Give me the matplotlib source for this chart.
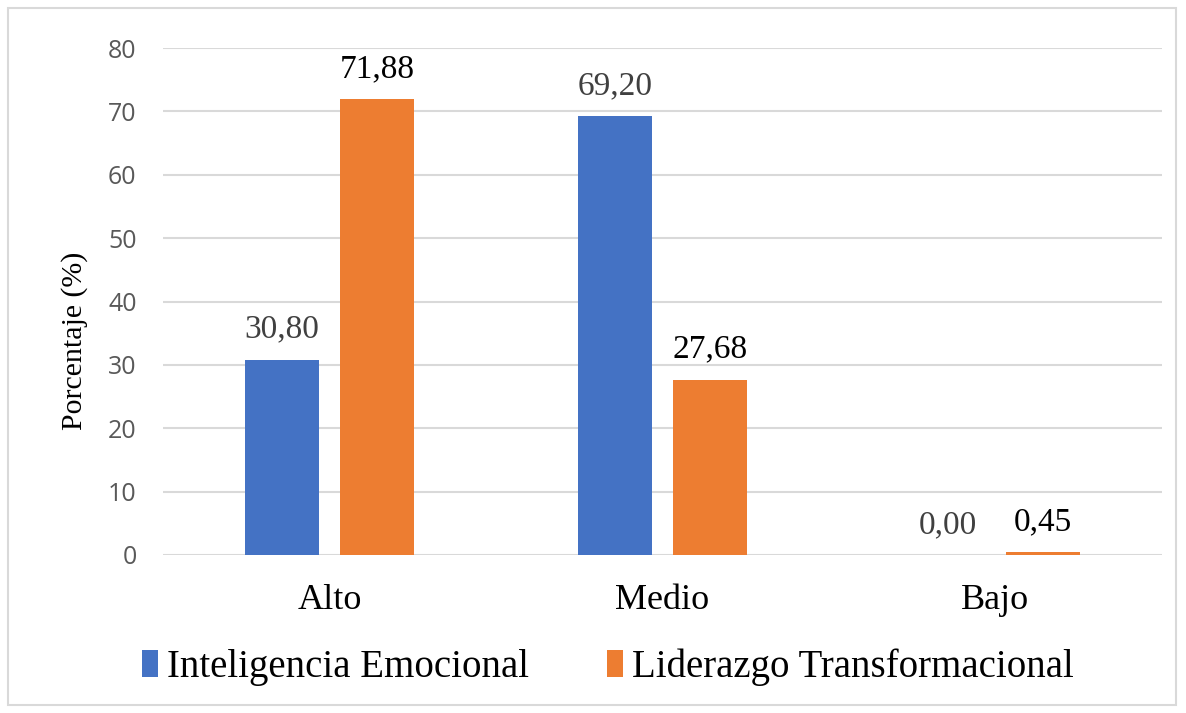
import numpy as np
import matplotlib.pyplot as plt
from matplotlib.patches import Rectangle

categories = ["Alto", "Medio", "Bajo"]
series_names = ["Inteligencia Emocional", "Liderazgo Transformacional"]
inteligencia = [30.80, 69.20, 0.00]
liderazgo = [71.88, 27.68, 0.45]
yticks = [0, 10, 20, 30, 40, 50, 60, 70, 80]

BLUE = "#4472C4"
ORANGE = "#ED7D31"
SERIF = "Liberation Serif"


def fmt(v):
    return f"{v:.2f}".replace(".", ",")


def main():
    fig = plt.figure(figsize=(11.86, 7.13), dpi=100)
    # outer chart border like an Excel chart area
    fig.patches.append(Rectangle((8 / 1186, 8 / 713), 1168 / 1186, 697 / 713,
                                 transform=fig.transFigure, fill=False,
                                 edgecolor="#D9D9D9", linewidth=1.5))
    ax = fig.add_axes([163 / 1186, 1 - 555 / 713, 999 / 1186, 507 / 713])

    x = np.arange(len(categories))
    w = 0.222
    off = 0.143
    ax.bar(x - off, inteligencia, w, color=BLUE, label=series_names[0], zorder=3)
    ax.bar(x + off, liderazgo, w, color=ORANGE, label=series_names[1], zorder=3)

    for xi, v in zip(x, inteligencia):
        ax.text(xi - off, v + 3.5, fmt(v), ha="center", va="baseline",
                fontsize=24, family=SERIF, color="#404040")
    for xi, v in zip(x, liderazgo):
        ax.text(xi + off, v + 3.5, fmt(v), ha="center", va="baseline",
                fontsize=24, family=SERIF, color="black")

    ax.set_xlim(-0.5, 2.5)
    ax.set_ylim(0, 80)
    ax.set_yticks(yticks)
    ax.set_yticklabels([str(t) for t in yticks], fontsize=18, family="Open Sans",
                       color="#595959")
    ax.set_xticks(x)
    ax.set_xticklabels(categories, fontsize=26, family=SERIF, color="black")
    ax.tick_params(axis="both", length=0)
    ax.tick_params(axis="y", pad=19)
    ax.tick_params(axis="x", pad=21)
    ax.grid(axis="y", color="#D9D9D9", linewidth=1.5, zorder=0)
    for s in ax.spines.values():
        s.set_visible(False)

    fig.text(75 / 1186, 1 - 341 / 713, "Porcentaje (%)", rotation=90,
             ha="center", va="center", fontsize=21.5, family=SERIF)

    fig.legend(loc="center", bbox_to_anchor=(608 / 1186, 1 - 667 / 713), ncol=2,
               frameon=False, prop={"family": SERIF, "size": 28},
               handlelength=0.4, handleheight=0.7, handletextpad=0.25,
               columnspacing=2.0)

    fig.savefig("out.png", dpi=100)


if __name__ == "__main__":
    main()
